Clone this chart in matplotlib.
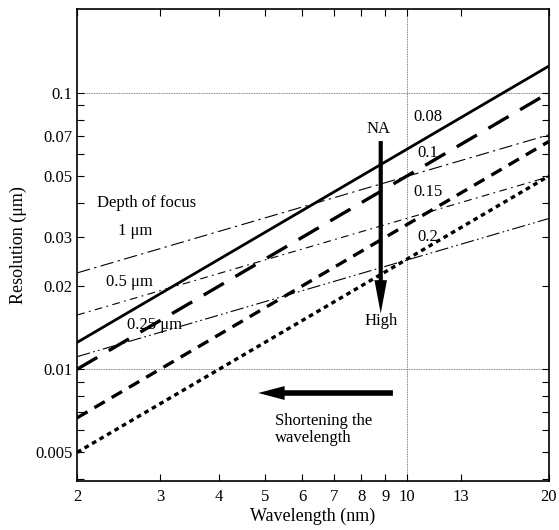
import matplotlib
matplotlib.use("Agg")
import matplotlib.pyplot as plt
from matplotlib.ticker import FixedLocator, FixedFormatter, NullLocator

plt.rcParams["font.family"] = ["Liberation Serif", "DejaVu Serif"]
plt.rcParams["mathtext.fontset"] = "stix"

# wavelength endpoints (nm); every curve is a straight line on log-log axes
wavelength = [2, 20]

# resolution (um) for each numerical aperture
na_labels = ["0.08", "0.1", "0.15", "0.2"]
res_na008 = [0.0125, 0.125]
res_na010 = [0.010, 0.100]
res_na015 = [0.00667, 0.0667]
res_na020 = [0.005, 0.050]

# resolution (um) along constant depth of focus
dof_labels = ["1 μm", "0.5 μm", "0.25 μm"]
res_dof1 = [0.0223, 0.0705]
res_dof05 = [0.0157, 0.0497]
res_dof025 = [0.0111, 0.0351]

x_ticks = [2, 3, 4, 5, 6, 7, 8, 9, 10, 13, 20]
y_ticks = [0.005, 0.01, 0.02, 0.03, 0.05, 0.07, 0.1]
y_ticklabels = ["0.005", "0.01", "0.02", "0.03", "0.05", "0.07", "0.1"]
y_minor = [0.004, 0.006, 0.007, 0.008, 0.009, 0.04, 0.06, 0.08, 0.09]

fig = plt.figure(figsize=(5.59, 5.30), dpi=100)
ax = fig.add_axes([0.138, 0.0925, 0.844, 0.8905])

ax.set_xscale("log")
ax.set_yscale("log")
ax.set_xlim(2, 20)
ax.set_ylim(0.00394, 0.201)

# grid guides
for yv in (0.01, 0.1):
    ax.axhline(yv, color="#555555", linestyle=(0, (1, 1)), linewidth=0.6, zorder=1)
ax.axvline(10, color="#555555", linestyle=(0, (1, 1)), linewidth=0.6, zorder=1)

# NA curves
ax.plot(wavelength, res_na008, color="black", linewidth=2.0, solid_capstyle="butt")
ax.plot(wavelength, res_na010, color="black", linewidth=2.4, linestyle=(0, (7, 4)))
ax.plot(wavelength, res_na015, color="black", linewidth=2.4, linestyle=(0, (3.6, 2.4)))
ax.plot(wavelength, res_na020, color="black", linewidth=2.4, linestyle=(0, (1.4, 1.2)))

# depth-of-focus curves
ax.plot(wavelength, res_dof1, color="black", linewidth=0.8, linestyle=(0, (12, 4, 2, 4)))
ax.plot(wavelength, res_dof05, color="black", linewidth=0.8, linestyle=(0, (7, 4, 1.5, 4)))
ax.plot(wavelength, res_dof025, color="black", linewidth=0.8,
        linestyle=(0, (12, 3, 1.5, 3, 1.5, 3)))

# annotations
fs = 12
ax.text(2.2, 0.040, "Depth of focus", fontsize=fs, va="center", ha="left")
ax.text(2.44, 0.0317, dof_labels[0], fontsize=fs, va="center", ha="left")
ax.text(2.3, 0.0206, dof_labels[1], fontsize=fs, va="center", ha="left")
ax.text(2.55, 0.0145, dof_labels[2], fontsize=fs, va="center", ha="left")

for label, xv, yv in zip(na_labels, [10.3, 10.5, 10.3, 10.5], [0.082, 0.0608, 0.0436, 0.0302]):
    ax.text(xv, yv, label, fontsize=fs, va="center", ha="left")

ax.text(8.69, 0.0738, "NA", fontsize=fs, va="center", ha="center")
ax.text(8.8, 0.0150, "High", fontsize=fs, va="center", ha="center")
ax.annotate("", xy=(8.8, 0.0159), xytext=(8.8, 0.0669),
            arrowprops=dict(width=3.0, headwidth=9, headlength=24,
                            facecolor="black", edgecolor="none", shrink=0))
ax.annotate("", xy=(4.84, 0.0082), xytext=(9.34, 0.0082),
            arrowprops=dict(width=4.0, headwidth=10, headlength=19,
                            facecolor="black", edgecolor="none", shrink=0))
ax.text(5.26, 0.00695, "Shortening the\nwavelength", fontsize=fs, va="top", ha="left",
        linespacing=1.1)

# ticks
ax.xaxis.set_major_locator(FixedLocator(x_ticks))
ax.xaxis.set_major_formatter(FixedFormatter([str(v) for v in x_ticks]))
ax.xaxis.set_minor_locator(NullLocator())
ax.yaxis.set_major_locator(FixedLocator(y_ticks))
ax.yaxis.set_major_formatter(FixedFormatter(y_ticklabels))
ax.yaxis.set_minor_locator(FixedLocator(y_minor))
ax.tick_params(which="both", direction="in", top=True, right=True, labelsize=fs,
               width=0.8, length=5)
ax.tick_params(axis="x", pad=6)

for spine in ax.spines.values():
    spine.set_linewidth(1.2)

ax.set_xlabel("Wavelength (nm)", fontsize=13, labelpad=2)
ax.set_ylabel("Resolution (μm)", fontsize=13, labelpad=6)

fig.savefig("out.png", dpi=100)
